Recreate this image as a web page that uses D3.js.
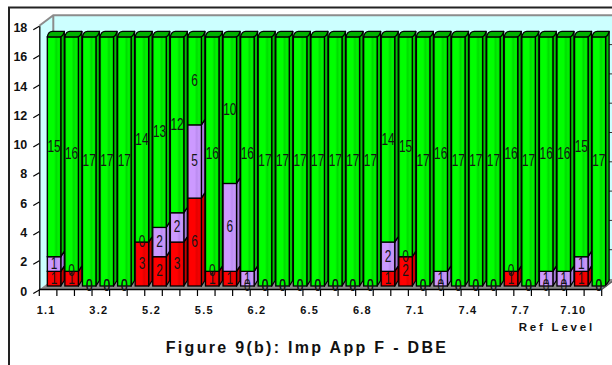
<!DOCTYPE html>
<html>
<head>
<meta charset="utf-8">
<script src="https://cdn.jsdelivr.net/npm/d3@7"></script>
<style>
  body { margin: 0; background: #fff; }
  svg { display: block; }
  text { font-family: "Liberation Sans", Arial, sans-serif; }
</style>
</head>
<body>
<svg id="chart" width="612" height="365"></svg>
<script>
// Reference levels (every third one is labelled on the axis)
const categories = ["1.1","1.2","3.1","3.2","4.1","5.1","5.2","5.3","5.4","5.5","5.6","6.1",
                    "6.2","6.3","6.4","6.5","6.6","6.7","6.8","6.9","6.10","7.1","7.2","7.3",
                    "7.4","7.5","7.6","7.7","7.8","7.9","7.10","7.11"];
// Stacked counts per reference level (bottom to top)
const notMet    = [1,1,0,0,0,3,2,3,6,1,1,0,0,0,0,0,0,0,0,1,2,0,0,0,0,0,1,0,0,0,1,0];
const partlyMet = [1,0,0,0,0,0,2,2,5,0,6,1,0,0,0,0,0,0,0,2,0,0,1,0,0,0,0,0,1,1,1,0];
const met       = [15,16,17,17,17,14,13,12,6,16,10,16,17,17,17,17,17,17,17,14,15,17,16,17,17,17,16,17,16,16,15,17];
const yTicks = [0,2,4,6,8,10,12,14,16,18];
const xTickLabels = categories.filter((d, i) => i % 3 === 0);
const titleText = "Figure 9(b):  Imp App F - DBE";
const axisTitle = "Ref Level";

const keys = ["notMet", "partlyMet", "met"];
const palette = {
  notMet:    { front: ["#e00000", "#ff0000", "#ff0000", "#e40000", "#f60000", "#dd0000"], side: "#c80000", cap: "#b80000" },
  partlyMet: { front: ["#b98be8", "#cc99ff", "#cc99ff", "#bb8cf0", "#c898fc", "#b88ae8"], side: "#a67ddb", cap: "#9f76d6" },
  met:       { front: ["#00e000", "#00ff00", "#00ff00", "#00dc00", "#00f400", "#00dc00"], side: "#00c400", cap: "#00b000" }
};

const rows = categories.map((c, i) => ({ cat: c, notMet: notMet[i], partlyMet: partlyMet[i], met: met[i] }));
const stacked = d3.stack().keys(keys)(rows);

const svg = d3.select("#chart");

// scales
const x = d3.scaleBand().domain(categories).range([39.3, 601.7]).paddingInner(0).paddingOuter(0);
const y = d3.scaleLinear().domain([0, 18]).range([289.5, 25.8]);

// 3D geometry
const wallDX = 14, wallDY = 10.5;   // full depth of the walls
const barShift = 8, barLift = 3.5;  // bars sit mid-depth
const barW = 13.5, sideDX = 3.5, sideDY = 5.5;

// gradients
const defs = svg.append("defs");
keys.forEach(k => {
  const g = defs.append("linearGradient").attr("id", "grad-" + k)
    .attr("x1", "0").attr("x2", "1").attr("y1", "0").attr("y2", "0");
  const offs = [0, 0.15, 0.5, 0.66, 0.82, 1];
  palette[k].front.forEach((c, i) => g.append("stop").attr("offset", offs[i]).attr("stop-color", c));
});

// outer frame
svg.append("path").attr("d", "M9,365 L9,7.5 L612,7.5")
  .attr("fill", "none").attr("stroke", "#222").attr("stroke-width", 2);

// walls and floor
const x0 = x.range()[0], x1 = x.range()[1];
const wallFill = "#ccffff";
svg.append("polygon")
  .attr("points", [[x0, y(0)], [x0, y(18)], [x0 + wallDX, y(18) - wallDY], [x0 + wallDX, y(0) - wallDY]].join(" "))
  .attr("fill", wallFill);
svg.append("rect")
  .attr("x", x0 + wallDX).attr("y", y(18) - wallDY)
  .attr("width", 640 - x0 - wallDX).attr("height", y(0) - y(18))
  .attr("fill", wallFill);
svg.append("polygon")
  .attr("points", [[x0, y(0)], [x0 + wallDX, y(0) - wallDY], [x1 + wallDX, y(0) - wallDY], [x1, y(0)]].join(" "))
  .attr("fill", "#8a8a8a");
svg.append("path")
  .attr("d", `M${x0},${y(18)} L${x0 + wallDX},${y(18) - wallDY} L620,${y(18) - wallDY} M${x0 + wallDX},${y(18) - wallDY} L${x0 + wallDX},${y(0) - wallDY}`)
  .attr("fill", "none").attr("stroke", "#8c8c8c").attr("stroke-width", 2);

// small marks on the far wall edge
svg.append("g").selectAll("line").data(yTicks.filter(v => v > 0 && v < 18)).join("line")
  .attr("x1", 607).attr("x2", 614)
  .attr("y1", d => y(d) - wallDY).attr("y2", d => y(d) - wallDY)
  .attr("stroke", "#333").attr("stroke-width", 1);

// bars
const fy = v => y(v) - barLift;
const barsG = svg.append("g");
categories.forEach((c, i) => {
  const bx = x(c) + barShift;
  const g = barsG.append("g");
  keys.forEach((k, ki) => {
    const [v0, v1] = stacked[ki][i];
    if (v1 <= v0) return;
    const yb = fy(v0), yt = fy(v1);
    g.append("path")
      .attr("d", `M${bx + barW},${yb} L${bx + barW + sideDX},${yb - sideDY} L${bx + barW + sideDX},${yt - sideDY} L${bx + barW},${yt} Z`)
      .attr("fill", palette[k].side).attr("stroke", "#000").attr("stroke-width", 1.3).attr("stroke-linejoin", "round");
    g.append("rect")
      .attr("x", bx).attr("y", yt).attr("width", barW).attr("height", yb - yt)
      .attr("fill", `url(#grad-${k})`).attr("stroke", "#000").attr("stroke-width", 1.3);
  });
  // top cap
  const total = stacked[keys.length - 1][i][1];
  const yt = fy(total);
  const topKey = keys.slice().reverse().find((k, j) => {
    const s = stacked[keys.length - 1 - j][i];
    return s[1] > s[0];
  });
  g.append("path")
    .attr("d", `M${bx},${yt} Q${bx + 1},${yt - sideDY} ${bx + sideDX + 1.5},${yt - sideDY} L${bx + barW + sideDX},${yt - sideDY} Q${bx + barW + sideDX - 1},${yt} ${bx + barW - 1.5},${yt} Z`)
    .attr("fill", palette[topKey].cap).attr("stroke", "#000").attr("stroke-width", 1.3).attr("stroke-linejoin", "round");
});

// x axis line and boundary ticks
svg.append("line").attr("x1", x0).attr("x2", x1).attr("y1", y(0)).attr("y2", y(0))
  .attr("stroke", "#000").attr("stroke-width", 1.3);
svg.append("line").attr("x1", x1).attr("x2", x1 + wallDX).attr("y1", y(0)).attr("y2", y(0) - wallDY)
  .attr("stroke", "#555").attr("stroke-width", 1.3);
svg.append("g").selectAll("line").data(categories.map(c => x(c)).concat([x1])).join("line")
  .attr("x1", d => d).attr("x2", d => d).attr("y1", y(0)).attr("y2", y(0) + 6.5)
  .attr("stroke", "#000").attr("stroke-width", 1.2);

const xAxis = svg.append("g").attr("transform", `translate(0,${y(0)})`)
  .call(d3.axisBottom(x).tickValues(xTickLabels).tickSize(0).tickPadding(17));
xAxis.select(".domain").remove();
xAxis.selectAll("text")
  .attr("font-family", "Liberation Sans, Arial, sans-serif")
  .attr("font-size", 11).attr("font-weight", "bold").attr("fill", "#111")
  .attr("letter-spacing", 1.2).attr("dx", -2);

// y axis
const yAxis = svg.append("g").attr("transform", `translate(${x0},0)`)
  .call(d3.axisLeft(y).tickValues(yTicks).tickSize(0).tickSizeOuter(0).tickPadding(12));
yAxis.select(".domain").attr("stroke", "#000").attr("stroke-width", 1.3);
yAxis.selectAll("text")
  .attr("font-family", "Liberation Sans, Arial, sans-serif")
  .attr("font-size", 12.5).attr("font-weight", "bold").attr("fill", "#111")
  .attr("dy", "0.45em");
yAxis.selectAll(".tick").append("line")
  .attr("x1", 0).attr("y1", 0).attr("x2", -6).attr("y2", 3.5)
  .attr("stroke", "#000").attr("stroke-width", 1.2);

// data labels
const labelsG = svg.append("g");
keys.forEach((k, ki) => {
  categories.forEach((c, i) => {
    const [v0, v1] = stacked[ki][i];
    const txt = String(v1 - v0);
    labelsG.append("text")
      .attr("x", x(c) + barShift + barW / 2)
      .attr("y", fy((v0 + v1) / 2) - 0.5)
      .attr("text-anchor", "middle")
      .attr("dominant-baseline", "central")
      .attr("font-size", 16)
      .attr("textLength", 6.6 * txt.length)
      .attr("lengthAdjust", "spacingAndGlyphs")
      .attr("fill", "#151515")
      .text(txt);
  });
});

// titles
svg.append("text").attr("x", 595).attr("y", 331).attr("text-anchor", "end")
  .attr("font-size", 11.5).attr("font-weight", "bold").attr("letter-spacing", 2.8)
  .attr("fill", "#111")
  .text(axisTitle);
svg.append("text").attr("x", 307).attr("y", 353).attr("text-anchor", "middle")
  .attr("font-size", 16).attr("font-weight", "bold").attr("letter-spacing", 2.3).attr("fill", "#111")
  .text(titleText);
</script>
</body>
</html>
